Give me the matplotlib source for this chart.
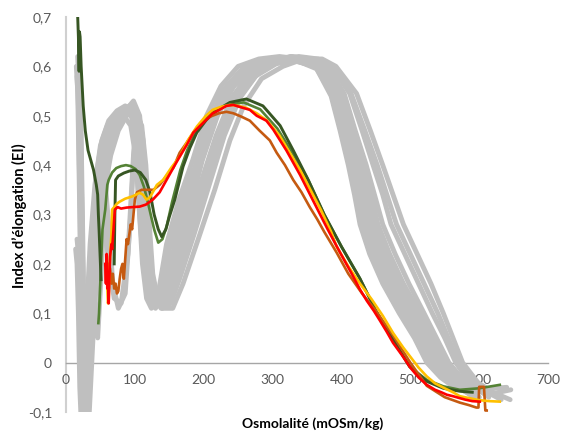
import numpy as np
import matplotlib
matplotlib.use("Agg")
import matplotlib.pyplot as plt

plt.rcParams['font.family'] = ['Lato', 'DejaVu Sans']

# ---------------- data ----------------
x_ticks = [0, 100, 200, 300, 400, 500, 600, 700]
x_tick_labels = ["0", "100", "200", "300", "400", "500", "600", "700"]
y_ticks = [-0.1, 0, 0.1, 0.2, 0.3, 0.4, 0.5, 0.6, 0.7]
y_tick_labels = ["-0,1", "0", "0,1", "0,2", "0,3", "0,4", "0,5", "0,6", "0,7"]
x_title = "Osmolalité (mOSm/kg)"
y_title = "Index d’élongation (EI)"

# gray control curves
g01_x = [15,17,20,23,26,29,33,38,44,52,62,74,86,95,101,106,111,117,124,134,146,164,184,204,225,250,280,310,340,366,388,401,412,421,429,444,463,488,510,528,548,568,588]
g01_y = [0.60,0.55,0.30,-0.05,-0.15,-0.05,0.12,0.26,0.38,0.45,0.49,0.51,0.52,0.50,0.44,0.32,0.20,0.13,0.11,0.14,0.24,0.33,0.41,0.50,0.56,0.60,0.615,0.62,0.615,0.60,0.54,0.47,0.40,0.34,0.28,0.22,0.16,0.10,0.05,0.00,-0.03,-0.05,-0.065]
g02_x = [16,18,21,24,27,30,34,40,47,56,66,78,90,99,105,110,115,121,128,138,150,168,188,208,230,256,285,315,345,372,394,408,420,430,439,455,474,498,518,536,555,575,595]
g02_y = [0.58,0.52,0.25,-0.08,-0.15,-0.08,0.08,0.22,0.35,0.43,0.48,0.50,0.51,0.49,0.43,0.31,0.19,0.13,0.115,0.14,0.23,0.32,0.40,0.49,0.555,0.595,0.61,0.615,0.61,0.595,0.54,0.47,0.40,0.34,0.28,0.22,0.16,0.10,0.05,0.00,-0.03,-0.05,-0.065]
g03_x = [14,16,18,20,23,26,30,35,42,50,60,72,84,94,101,107,113,119,127,137,149,168,190,210,232,258,288,318,348,376,398,412,424,434,444,460,480,503,523,541,560,580,600]
g03_y = [0.23,0.20,0.10,-0.05,-0.15,-0.05,0.10,0.24,0.36,0.44,0.48,0.50,0.50,0.48,0.42,0.30,0.19,0.13,0.12,0.15,0.23,0.32,0.40,0.49,0.55,0.59,0.61,0.615,0.61,0.59,0.54,0.47,0.40,0.34,0.28,0.22,0.16,0.10,0.05,0.00,-0.03,-0.05,-0.07]
g04_x = [17,19,22,25,28,32,37,42,46,50,56,64,74,86,96,103,109,115,122,130,142,160,180,200,222,248,278,308,338,364,385,398,410,419,427,441,460,484,506,524,544,564,584]
g04_y = [0.62,0.55,0.35,0.0,-0.15,-0.05,0.10,0.12,0.05,0.15,0.32,0.44,0.49,0.51,0.50,0.44,0.30,0.18,0.12,0.11,0.15,0.25,0.35,0.45,0.53,0.58,0.605,0.615,0.61,0.595,0.54,0.47,0.40,0.34,0.28,0.22,0.16,0.10,0.05,0.00,-0.03,-0.05,-0.06]
g05_x = [18,20,23,26,29,33,38,44,50,56,62,68,76,86,94,100,106,112,118,126,136,150,170,195,218,244,274,305,335,362,384,400,414,424,433,449,469,493,514,533,552,572,592]
g05_y = [0.58,0.50,0.28,-0.05,-0.15,-0.02,0.15,0.30,0.40,0.38,0.28,0.16,0.11,0.14,0.30,0.46,0.50,0.45,0.30,0.16,0.12,0.16,0.28,0.40,0.50,0.56,0.60,0.615,0.61,0.60,0.55,0.47,0.40,0.34,0.28,0.22,0.16,0.10,0.05,0.00,-0.03,-0.05,-0.07]
g06_x = [19,21,24,27,30,34,39,45,52,60,70,82,94,104,110,115,120,127,136,148,160,178,200,222,244,268,298,328,358,382,404,420,436,448,460,478,498,520,538,556,574,594,614]
g06_y = [0.57,0.50,0.22,-0.10,-0.15,-0.05,0.10,0.24,0.35,0.42,0.47,0.50,0.52,0.50,0.42,0.30,0.19,0.13,0.115,0.12,0.16,0.25,0.35,0.45,0.53,0.58,0.605,0.615,0.61,0.595,0.545,0.47,0.40,0.34,0.28,0.22,0.16,0.10,0.05,0.00,-0.03,-0.05,-0.07]
g07_x = [20,22,25,28,31,35,40,46,54,63,74,86,98,107,113,118,124,131,140,152,165,186,208,230,252,278,308,338,366,388,414,434,452,466,480,500,520,540,555,570,590,612,632]
g07_y = [0.55,0.46,0.20,-0.10,-0.15,-0.03,0.12,0.26,0.37,0.44,0.48,0.51,0.53,0.50,0.40,0.28,0.18,0.125,0.11,0.12,0.17,0.26,0.36,0.46,0.535,0.585,0.61,0.62,0.615,0.60,0.545,0.47,0.40,0.34,0.28,0.22,0.16,0.10,0.05,0.00,-0.035,-0.06,-0.075]
g08_x = [21,23,26,29,32,36,41,48,56,65,76,88,100,110,116,121,126,133,143,155,170,192,216,238,258,284,315,345,372,392,422,442,460,475,490,510,530,548,562,576,598,620,645]
g08_y = [0.23,0.18,0.05,-0.10,-0.15,-0.04,0.10,0.24,0.35,0.42,0.47,0.50,0.51,0.48,0.40,0.28,0.18,0.13,0.11,0.11,0.16,0.25,0.35,0.45,0.52,0.575,0.60,0.615,0.615,0.60,0.545,0.47,0.40,0.34,0.28,0.22,0.16,0.10,0.05,0.00,-0.04,-0.06,-0.075]
g09_x = [17,19,22,25,28,32,37,43,50,58,68,80,92,101,107,112,118,125,134,146,158,176,197,218,240,266,296,326,354,378,398,413,426,437,447,464,484,508,528,546,566,590,640]
g09_y = [0.60,0.54,0.28,-0.06,-0.15,-0.04,0.12,0.27,0.38,0.45,0.49,0.51,0.52,0.49,0.42,0.30,0.19,0.13,0.12,0.13,0.18,0.27,0.37,0.46,0.535,0.585,0.61,0.62,0.615,0.60,0.545,0.47,0.40,0.34,0.28,0.22,0.16,0.10,0.05,0.00,-0.035,-0.055,-0.05]
g10_x = [16,18,21,24,27,31,36,42,48,55,62,70,80,90,98,104,109,114,120,128,140,156,176,198,220,246,276,306,336,364,390,404,416,426,436,452,472,496,518,538,558,578,600]
g10_y = [0.25,0.22,0.12,-0.05,-0.15,-0.03,0.14,0.28,0.36,0.30,0.20,0.13,0.12,0.22,0.42,0.50,0.48,0.38,0.22,0.13,0.11,0.17,0.29,0.41,0.50,0.57,0.60,0.615,0.61,0.60,0.545,0.47,0.40,0.34,0.28,0.22,0.16,0.10,0.05,0.00,-0.035,-0.055,-0.07]
g11_x = [18,20,23,26,29,33,38,44,51,60,70,82,93,102,108,113,119,126,135,147,160,178,199,221,243,268,298,328,356,380,402,418,432,443,453,470,490,514,533,550,570,592,620]
g11_y = [0.59,0.52,0.26,-0.08,-0.15,-0.05,0.10,0.24,0.36,0.44,0.48,0.50,0.51,0.49,0.42,0.30,0.19,0.13,0.115,0.125,0.17,0.26,0.36,0.46,0.535,0.585,0.61,0.62,0.615,0.60,0.545,0.47,0.40,0.34,0.28,0.22,0.16,0.10,0.05,0.00,-0.035,-0.055,-0.065]
g12_x = [19,21,24,27,30,34,39,45,53,62,72,84,96,105,111,116,122,129,138,150,163,182,205,228,250,275,305,335,362,386,412,430,446,460,472,492,512,532,550,566,586,612,646]
g12_y = [0.56,0.48,0.22,-0.10,-0.15,-0.03,0.12,0.26,0.37,0.44,0.48,0.50,0.52,0.50,0.41,0.29,0.18,0.13,0.11,0.12,0.17,0.26,0.36,0.46,0.535,0.58,0.605,0.615,0.61,0.60,0.545,0.47,0.40,0.34,0.28,0.22,0.16,0.10,0.05,0.00,-0.04,-0.065,-0.055]

# coloured patient curves
dark_green_x = [17,18,19,19.6,20.5,22,25,28,32,36,40,44,46,47,48,50,51,np.nan,70,71,72,76,84,92,100,108,116,122,128,134,139,145,150,158,170,180,190,204,220,238,262,286,311,330,350,375,400,427,450,475,499,524,548,572,590]
dark_green_y = [0.70,0.66,0.59,0.67,0.66,0.60,0.52,0.47,0.43,0.41,0.39,0.36,0.34,0.30,0.27,0.20,0.168,np.nan,0.20,0.30,0.37,0.378,0.384,0.388,0.39,0.385,0.37,0.345,0.30,0.27,0.255,0.27,0.295,0.33,0.397,0.435,0.466,0.492,0.512,0.527,0.534,0.52,0.48,0.43,0.375,0.30,0.235,0.17,0.105,0.047,-0.008,-0.038,-0.052,-0.058,-0.06]
mid_green_x = [47,48,50,53,57,60,62,67,73,80,87,94,101,107,113,118,123,128,134,140,146,154,166,176,186,200,216,234,258,282,307,331,352,375,400,427,450,475,499,524,548,572,600,630]
mid_green_y = [0.08,0.10,0.17,0.27,0.31,0.36,0.37,0.385,0.394,0.398,0.40,0.398,0.392,0.38,0.357,0.33,0.30,0.27,0.243,0.25,0.275,0.325,0.39,0.43,0.46,0.49,0.51,0.522,0.527,0.513,0.474,0.42,0.37,0.30,0.235,0.17,0.105,0.047,-0.008,-0.035,-0.048,-0.055,-0.052,-0.045]
yellow_x = [60,61,62,63,64,66,67,70,74,78,86,97,107,112,117,122,132,141,153,165,177,190,202,213,225,238,250,262,277,292,310,325,340,355,370,385,393,410,427,444,460,475,490,500,512,524,536,550,562,572,586,600,615,630]
yellow_y = [0.15,0.12,0.13,0.18,0.215,0.26,0.31,0.315,0.322,0.326,0.332,0.337,0.344,0.34,0.33,0.335,0.36,0.37,0.395,0.417,0.45,0.478,0.498,0.512,0.518,0.522,0.52,0.516,0.505,0.49,0.46,0.425,0.39,0.35,0.31,0.265,0.235,0.195,0.16,0.128,0.095,0.06,0.03,0.012,-0.01,-0.028,-0.042,-0.052,-0.06,-0.068,-0.072,-0.076,-0.078,-0.079]
red_x = [57,58,59,60,61,62,63,64,66,67,69,71,75,80,88,97,107,116,126,136,146,156,165,175,185,195,204,213,223,233,243,252,267,277,291,301,320,340,360,380,398,415,427,437,447,456,466,475,488,500,512,524,536,545,553,562,572,580,590,601]
red_y = [0.20,0.16,0.22,0.15,0.18,0.12,0.17,0.215,0.24,0.23,0.27,0.31,0.315,0.312,0.314,0.315,0.316,0.32,0.33,0.345,0.37,0.395,0.417,0.44,0.466,0.48,0.492,0.505,0.512,0.52,0.522,0.518,0.512,0.50,0.49,0.472,0.43,0.38,0.325,0.27,0.223,0.18,0.148,0.125,0.105,0.085,0.062,0.04,0.015,-0.01,-0.03,-0.045,-0.055,-0.06,-0.065,-0.068,-0.072,-0.075,-0.078,-0.079]
orange_x = [62,64,66,68,70,72,74,76,78,80,82,84,86,88,90,92,94,96,98,100,103,110,118,127,136,146,156,165,175,185,195,209,222,233,243,255,267,281,296,306,318,330,342,354,365,375,393,410,430,450,475,500,524,550,572,585,596,599,600,607,609,611]
orange_y = [0.20,0.19,0.16,0.18,0.15,0.16,0.14,0.145,0.17,0.19,0.20,0.17,0.21,0.25,0.24,0.26,0.28,0.27,0.30,0.33,0.345,0.35,0.35,0.35,0.36,0.378,0.395,0.425,0.445,0.466,0.485,0.498,0.505,0.508,0.505,0.498,0.49,0.47,0.45,0.425,0.40,0.37,0.345,0.315,0.29,0.265,0.223,0.18,0.14,0.105,0.055,0.0,-0.047,-0.07,-0.081,-0.086,-0.091,-0.091,-0.049,-0.049,-0.097,-0.097]

gray_curves = [(g01_x, g01_y), (g02_x, g02_y), (g03_x, g03_y), (g04_x, g04_y),
               (g05_x, g05_y), (g06_x, g06_y), (g07_x, g07_y), (g08_x, g08_y),
               (g09_x, g09_y), (g10_x, g10_y), (g11_x, g11_y), (g12_x, g12_y)]

# ---------------- figure ----------------
W, H = 561, 434
fig = plt.figure(figsize=(W / 100, H / 100), dpi=100)
ax = fig.add_axes([66 / W, 1 - 412 / H, (548 - 66) / W, (412 - 17) / H])
ax.set_xlim(0, 700)
ax.set_ylim(-0.1, 0.7)

GRAY = "#BFBFBF"
for gx, gy in gray_curves:
    ax.plot(gx, gy, color=GRAY, lw=3.5, solid_capstyle="round",
            solid_joinstyle="round", zorder=2)

ax.plot(mid_green_x, mid_green_y, color="#548235", lw=1.9, zorder=3)
ax.plot(dark_green_x, dark_green_y, color="#375623", lw=2.1, zorder=3)
ax.plot(orange_x, orange_y, color="#C55A11", lw=1.9, zorder=4)
ax.plot(yellow_x, yellow_y, color="#FFC000", lw=1.9, zorder=4)
ax.plot(red_x, red_y, color="#FF0000", lw=1.9, zorder=5)

for s in ["top", "right"]:
    ax.spines[s].set_visible(False)
ax.spines["bottom"].set_position(("data", 0))
ax.spines["bottom"].set_color("#A6A6A6")
ax.spines["bottom"].set_linewidth(1.0)
ax.spines["left"].set_color("#D0D0D0")
ax.spines["left"].set_linewidth(1.5)
ax.spines["bottom"].set_zorder(1)
ax.spines["left"].set_zorder(1)

ax.set_xticks(x_ticks)
ax.set_xticklabels(x_tick_labels)
ax.set_yticks(y_ticks)
ax.set_yticklabels(y_tick_labels)
ax.tick_params(axis="both", length=0, labelsize=10, labelcolor="#595959")
ax.tick_params(axis="x", pad=8)
ax.tick_params(axis="y", pad=10)

fig.text(313 / W, 1 - 424 / H, x_title, ha="center", va="center",
         fontsize=10, fontweight="bold", color="#000000")
fig.text(19 / W, 1 - 216 / H, y_title, ha="center", va="center",
         rotation=90, fontsize=10.5, fontweight="bold", color="#000000")

fig.savefig("out.png", dpi=100)
